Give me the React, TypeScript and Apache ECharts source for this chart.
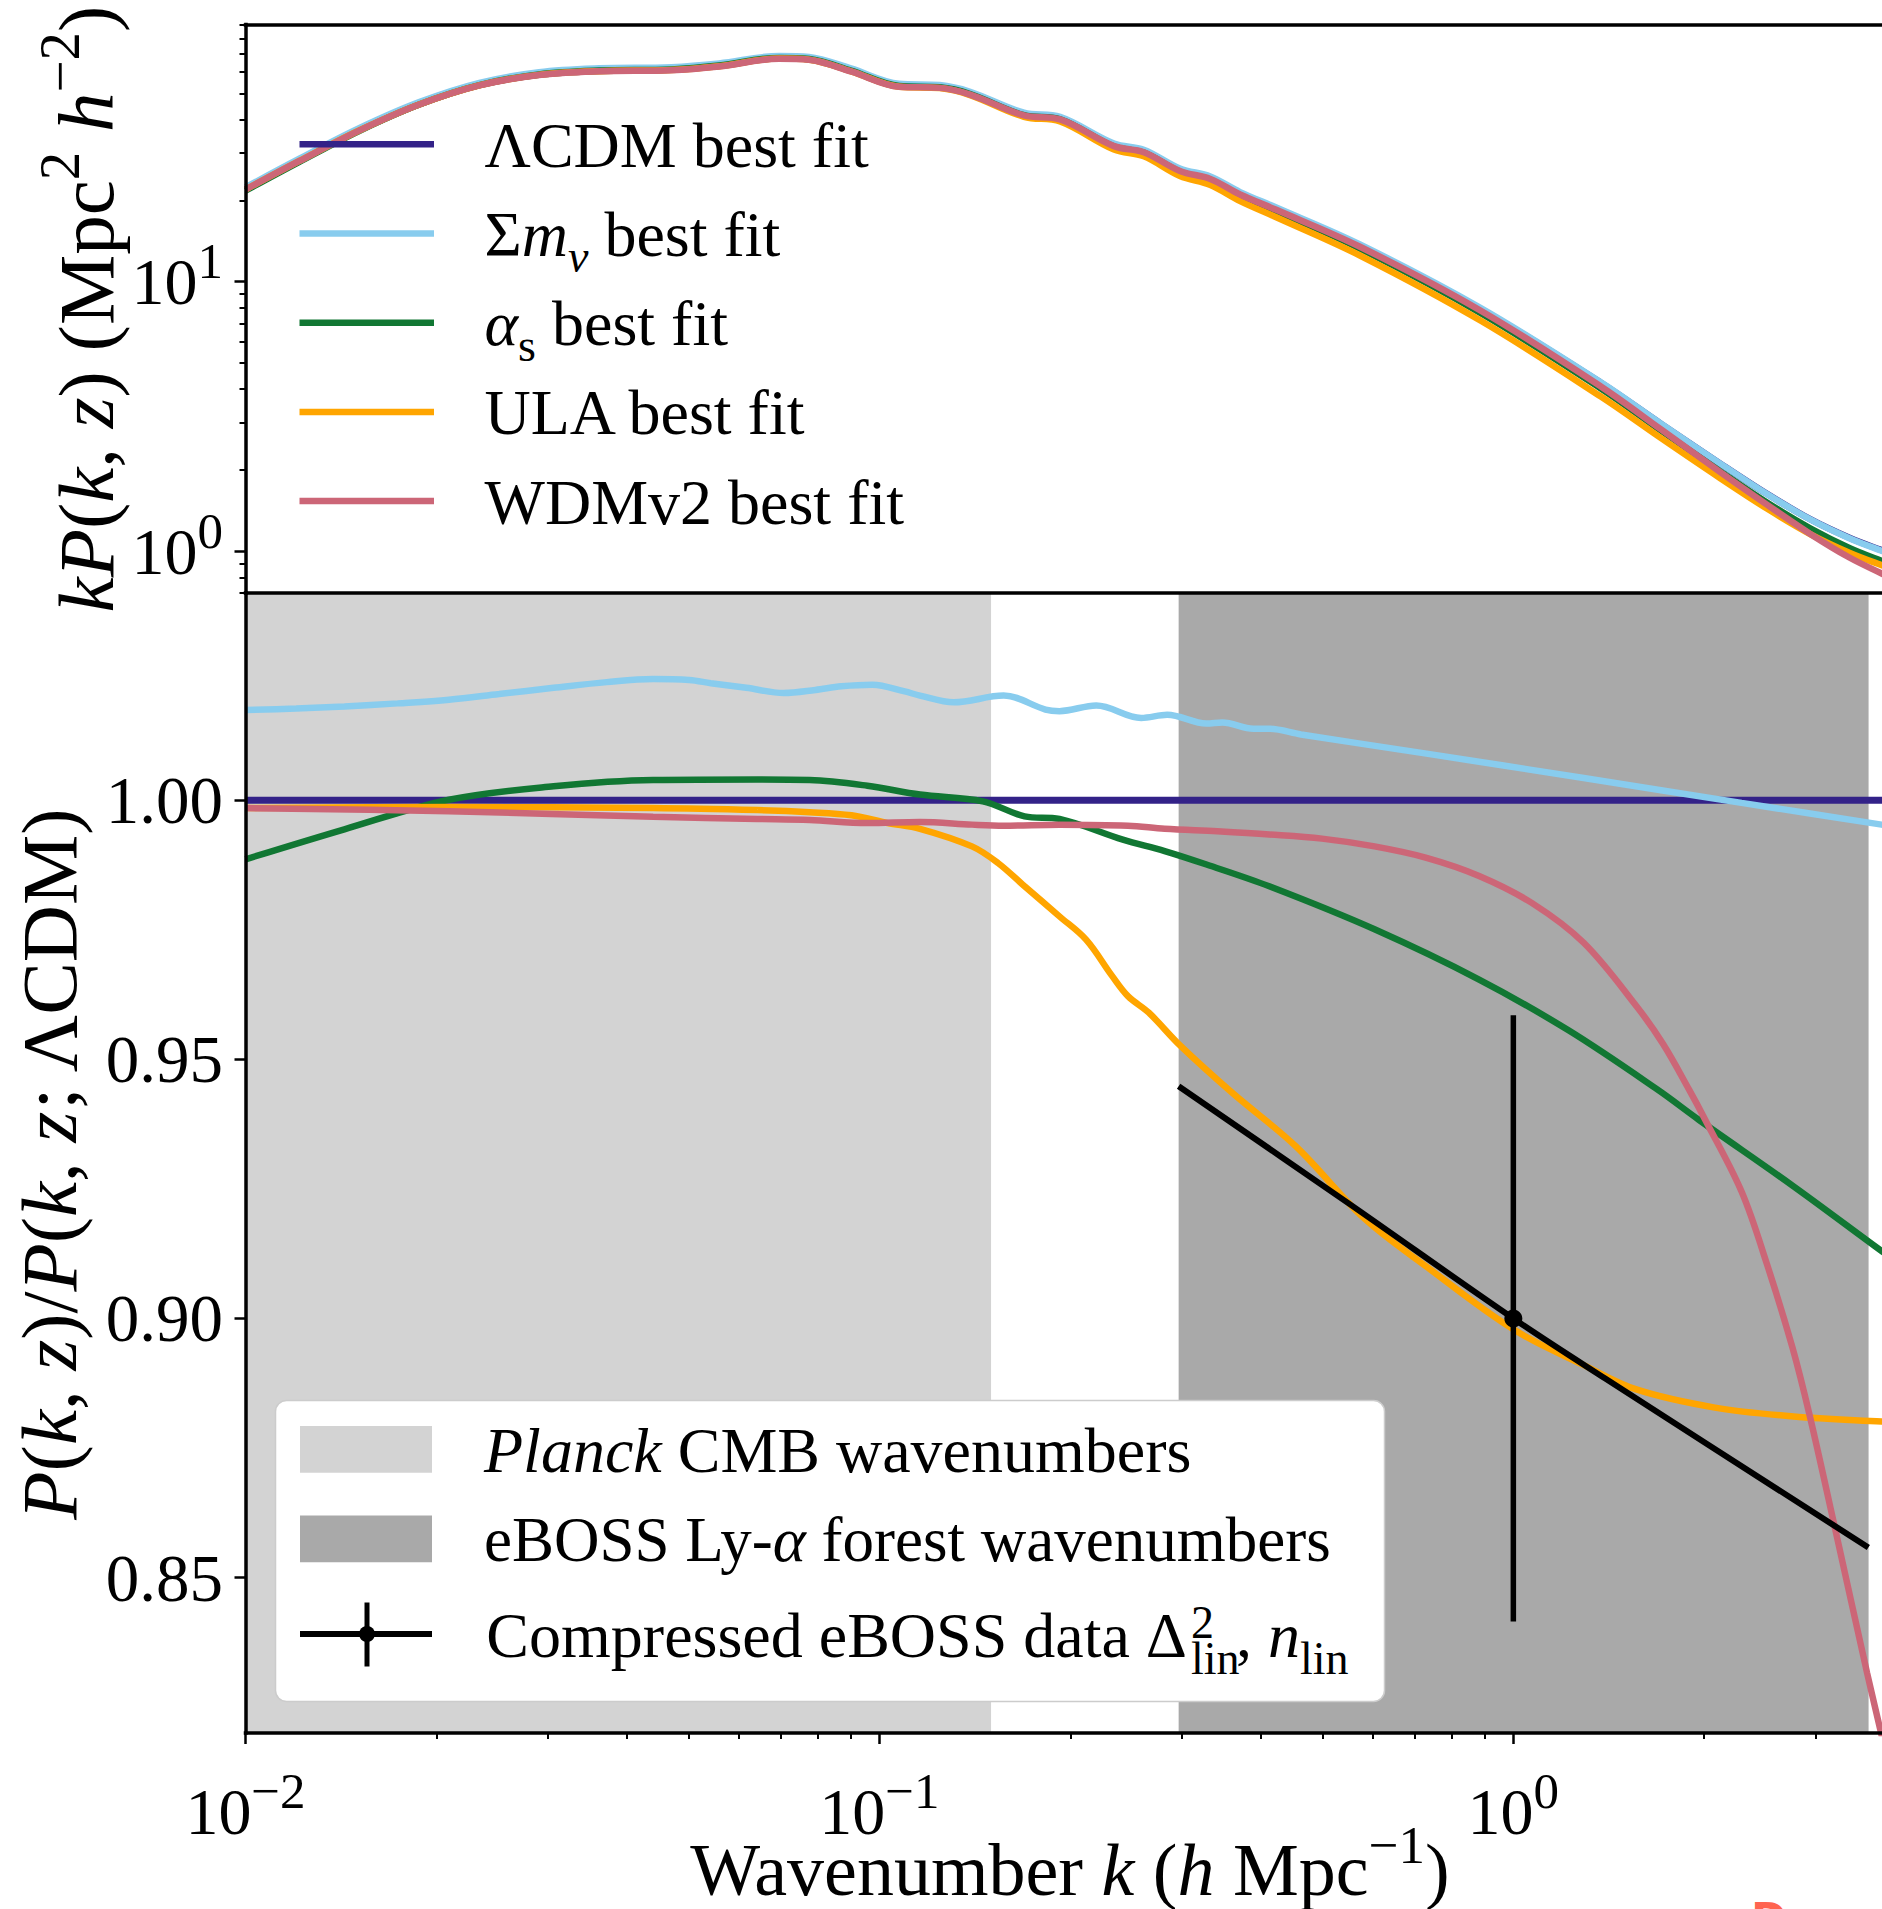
import React, { useEffect, useRef } from 'react';
import * as echarts from 'echarts';

const FONT = '"Liberation Serif", "DejaVu Serif", "Times New Roman", serif';

// ---------------- axis ranges (log10 k on x) ----------------
const LOG_K_MIN = -2; // k = 0.01 h/Mpc
const LOG_K_MAX = Math.log10(4); // k = 4 h/Mpc (figure cropped on the right)
const KP_MIN = 0.7;
const KP_MAX = 90;
const RATIO_MIN = 0.82;
const RATIO_MAX = 1.04;

// ---------------- ticks ----------------
const X_MAJOR_DECADES = [-2, -1, 0];
const MINOR_MULTIPLIERS = [2, 3, 4, 5, 6, 7, 8, 9];
const KP_MAJOR_DECADES = [0, 1];
const KP_MINOR_DECADES = [-1, 0, 1];
const RATIO_TICKS = [0.85, 0.9, 0.95, 1.0];

// ---------------- colours ----------------
const C_LCDM = '#332288';
const C_MNU = '#88CCEE';
const C_ALPHA = '#117733';
const C_ULA = '#FFA500';
const C_WDM = '#CC6677';

// ---------------- top panel: k P(k, z) ----------------
const TOP_LOG_K = [-2.0, -1.915, -1.82, -1.726, -1.631, -1.537, -1.442, -1.328, -1.253, -1.158, -1.111, -1.045, -0.969, -0.905, -0.857, -0.772, -0.715, -0.63, -0.583, -0.526, -0.478, -0.431, -0.374, -0.242, -0.052, 0.138, 0.233, 0.327, 0.4, 0.469, 0.53, 0.581, 0.602];
const TOP_LCDM = [22.0, 28.1, 36.5, 45.5, 53.6, 58.6, 60.5, 61.1, 63.1, 67.4, 66.8, 60.5, 53.1, 52.6, 49.7, 41.6, 40.2, 32.0, 30.4, 25.9, 24.2, 21.2, 18.6, 13.6, 7.94, 4.22, 2.97, 2.11, 1.633, 1.312, 1.122, 1.009, 0.97];
const TOP_MNU = [22.38, 28.6, 37.17, 46.36, 54.67, 59.85, 61.87, 62.52, 64.53, 68.8, 68.22, 61.83, 54.23, 53.63, 50.64, 42.35, 40.89, 32.58, 30.89, 26.32, 24.56, 21.5, 18.85, 13.75, 8.0, 4.236, 2.975, 2.11, 1.63, 1.309, 1.118, 1.004, 0.965];
const TOP_ALPHA_S = [21.75, 27.85, 36.32, 45.45, 53.65, 58.75, 60.7, 61.34, 63.35, 67.67, 67.06, 60.7, 53.21, 52.63, 49.7, 41.47, 40.06, 31.75, 30.13, 25.6, 23.89, 20.89, 18.28, 13.28, 7.66, 4.018, 2.803, 1.975, 1.517, 1.214, 1.029, 0.921, 0.884];
const TOP_ULA = [21.97, 28.06, 36.45, 45.44, 53.53, 58.52, 60.42, 61.01, 63.0, 67.27, 66.65, 60.32, 52.85, 52.27, 49.26, 40.91, 39.3, 30.91, 29.18, 24.67, 22.84, 19.9, 17.34, 12.51, 7.18, 3.749, 2.628, 1.862, 1.44, 1.156, 0.988, 0.888, 0.854];
const TOP_WDM = [21.97, 28.05, 36.43, 45.41, 53.48, 58.44, 60.32, 60.9, 62.89, 67.16, 66.55, 60.25, 52.87, 52.37, 49.47, 41.4, 40.01, 31.84, 30.24, 25.75, 24.06, 21.07, 18.48, 13.48, 7.82, 4.087, 2.832, 1.962, 1.489, 1.157, 0.948, 0.827, 0.784];

// ---------------- bottom panel: ratio to LCDM ----------------
const LCDM_LOG_K = [-2.0, 0.602];
const LCDM_RATIO = [1.0, 1.0];

const MNU_LOG_K = [-2.0, -1.92, -1.844, -1.76, -1.679, -1.6, -1.514, -1.43, -1.357, -1.3, -1.266, -1.21, -1.151, -1.101, -1.06, -1.011, -0.96, -0.936, -0.883, -0.804, -0.738, -0.716, -0.658, -0.587, -0.546, -0.484, -0.459, -0.41, -0.385, -0.335, -0.137, 0.111, 0.36, 0.581, 0.602];
const MNU_RATIO = [1.0174, 1.0177, 1.0181, 1.0187, 1.0194, 1.0205, 1.0217, 1.0228, 1.0234, 1.0232, 1.0226, 1.0217, 1.0207, 1.0213, 1.022, 1.0223, 1.021, 1.0202, 1.0189, 1.0202, 1.0175, 1.0172, 1.0183, 1.0159, 1.0165, 1.0148, 1.015, 1.0138, 1.0138, 1.0127, 1.009, 1.0043, 0.9995, 0.9953, 0.9949];

const ALPHA_LOG_K = [-2.0, -1.844, -1.679, -1.514, -1.357, -1.192, -1.11, -1.019, -0.936, -0.837, -0.771, -0.716, -0.616, -0.55, -0.484, -0.385, -0.219, -0.054, 0.087, 0.227, 0.293, 0.442, 0.581, 0.602];
const ALPHA_RATIO = [0.9886, 0.9944, 1.0001, 1.0027, 1.0039, 1.004, 1.0039, 1.0028, 1.0011, 0.9998, 0.9969, 0.9964, 0.9924, 0.9902, 0.9876, 0.9834, 0.9751, 0.9654, 0.9556, 0.9442, 0.9383, 0.9255, 0.913, 0.9112];

const ULA_LOG_K = [-2.0, -1.679, -1.357, -1.192, -1.11, -1.044, -0.987, -0.936, -0.854, -0.813, -0.771, -0.716, -0.674, -0.633, -0.608, -0.575, -0.525, -0.443, -0.343, -0.236, -0.137, 0.0, 0.111, 0.194, 0.318, 0.442, 0.581, 0.602];
const ULA_RATIO = [0.9985, 0.9987, 0.9985, 0.9981, 0.9977, 0.9971, 0.9956, 0.9945, 0.9911, 0.9879, 0.9834, 0.9776, 0.9731, 0.9661, 0.9622, 0.959, 0.9526, 0.9435, 0.9332, 0.9194, 0.91, 0.8979, 0.891, 0.8863, 0.8828, 0.8811, 0.8801, 0.88];

const WDM_LOG_K = [-2.0, -1.679, -1.357, -1.192, -1.11, -1.019, -0.936, -0.854, -0.804, -0.716, -0.608, -0.55, -0.467, -0.385, -0.302, -0.219, -0.137, -0.054, 0.029, 0.111, 0.194, 0.236, 0.277, 0.302, 0.36, 0.4, 0.44, 0.467, 0.508, 0.558, 0.581, 0.602];
const WDM_RATIO = [0.9985, 0.9979, 0.9968, 0.9964, 0.9962, 0.9956, 0.9958, 0.9953, 0.9951, 0.9953, 0.9951, 0.9945, 0.994, 0.9934, 0.9926, 0.9911, 0.9889, 0.9854, 0.9802, 0.9725, 0.9603, 0.953, 0.9442, 0.9385, 0.9245, 0.9105, 0.8945, 0.8815, 0.8592, 0.8316, 0.8195, 0.808];

// compressed eBOSS constraint (amplitude + slope)
const NLIN_LOG_K = [-0.528, -0.261, 0.0, 0.145, 0.56];
const NLIN_RATIO = [0.9448, 0.9223, 0.9, 0.8884, 0.8558];
const EBOSS_POINT = [[0.0, 0.9, 0.0585]]; // [log10 k, ratio, error]

// wavenumber ranges (h/Mpc)
const BAND_K_MIN = [0.01, 0.2965];
const BAND_K_MAX = [0.15, 3.634];
const BAND_COLORS = ['#d3d3d3', '#a9a9a9'];

// ---------------- helpers ----------------
function rich(size: number, lh: number, supScale = 0.72) {
  const sup = Math.round(size * supScale);
  const base = { fontFamily: FONT, color: '#000' };
  return {
    n: { ...base, fontSize: size, lineHeight: lh },
    i: { ...base, fontSize: size, lineHeight: lh, fontStyle: 'italic' },
    s: { ...base, fontSize: sup, lineHeight: lh - 0.66 * size, verticalAlign: 'top' },
    u: { ...base, fontSize: sup, lineHeight: lh - 0.62 * size, verticalAlign: 'bottom' },
    ui: { ...base, fontSize: sup, lineHeight: lh - 0.62 * size, verticalAlign: 'bottom', fontStyle: 'italic' },
  };
}

function minorTicks(decades: number[], lo: number, hi: number) {
  const out: number[] = [];
  decades.forEach((d) => MINOR_MULTIPLIERS.forEach((m) => {
    const v = d + Math.log10(m);
    if (v >= lo - 1e-9 && v <= hi + 1e-9) out.push(v);
  }));
  return out;
}

function powLabel(v: number) {
  const e = Math.round(v);
  return `{n|10}{s|${e < 0 ? '\u2212' + Math.abs(e) : e}}`;
}

const AXIS_LINE = { show: true, onZero: false, lineStyle: { color: '#000', width: 3.5, cap: 'square' } };

function lineSeries(name: string, logK: number[], vals: number[], color: string, idx: number, z: number, logY: boolean, width = 6.5) {
  return {
    name,
    type: 'line',
    xAxisIndex: idx === 0 ? 0 : 2,
    yAxisIndex: idx === 0 ? 0 : 2,
    data: logK.map((x, i) => [x, logY ? Math.log10(vals[i]) : vals[i]]),
    showSymbol: false,
    symbol: 'none',
    smooth: 0.35,
    lineStyle: { color, width },
    z,
    silent: true,
  };
}

function txt(x: number, y: number, text: string, size: number, align = 'left', extra: any = {}) {
  return {
    type: 'text',
    x,
    y,
    z: 100,
    silent: true,
    ...extra,
    style: {
      text,
      rich: rich(size, Math.round(size * 1.4)),
      fontFamily: FONT,
      fontSize: size,
      fill: '#000',
      align,
      textAlign: align,
      verticalAlign: 'middle',
      textVerticalAlign: 'middle',
    },
  };
}

function buildOption() {
  const xMinor = minorTicks(X_MAJOR_DECADES, LOG_K_MIN, LOG_K_MAX);
  const kpLo = Math.log10(KP_MIN);
  const kpHi = Math.log10(KP_MAX);
  const yMinor = minorTicks(KP_MINOR_DECADES, kpLo, kpHi);
  const tickRich = rich(66, 92, 0.78);

  const xBase = { type: 'value', min: LOG_K_MIN, max: LOG_K_MAX, splitLine: { show: false }, z: 10 };

  const topLegendItems = [
    { color: C_LCDM, label: '{n|\u039BCDM best fit}' },
    { color: C_MNU, label: '{n|\u03A3}{i|m}{ui|\u03BD}{n| best fit}' },
    { color: C_ALPHA, label: '{i|\u03B1}{u|s}{n| best fit}' },
    { color: C_ULA, label: '{n|ULA best fit}' },
    { color: C_WDM, label: '{n|WDMv2 best fit}' },
  ];

  const graphics: any[] = [];
  // top legend (no frame)
  topLegendItems.forEach((it, i) => {
    const y = 144.3 + i * 89.2;
    graphics.push({ type: 'line', z: 100, silent: true, shape: { x1: 299.5, y1: y, x2: 434, y2: y }, style: { stroke: it.color, lineWidth: 6.5 } });
    graphics.push(txt(484.5, y + 1, it.label, 64));
  });

  // bottom legend
  graphics.push({ type: 'rect', z: 99, silent: true, shape: { x: 275.5, y: 1400.5, width: 1109, height: 301, r: 11 }, style: { fill: '#ffffff', stroke: '#cccccc', lineWidth: 1.5 } });
  graphics.push({ type: 'rect', z: 100, silent: true, shape: { x: 300, y: 1426, width: 132, height: 46.7 }, style: { fill: BAND_COLORS[0] } });
  graphics.push({ type: 'rect', z: 100, silent: true, shape: { x: 300, y: 1515.5, width: 132, height: 46.7 }, style: { fill: BAND_COLORS[1] } });
  graphics.push({ type: 'line', z: 100, silent: true, shape: { x1: 300, y1: 1634, x2: 432, y2: 1634 }, style: { stroke: '#000', lineWidth: 6 } });
  graphics.push({ type: 'line', z: 100, silent: true, shape: { x1: 367, y1: 1602.5, x2: 367, y2: 1666.5 }, style: { stroke: '#000', lineWidth: 5 } });
  graphics.push({ type: 'circle', z: 101, silent: true, shape: { cx: 367, cy: 1634, r: 8 }, style: { fill: '#000' } });
  graphics.push(txt(484, 1450, '{i|Planck}{n| CMB wavenumbers}', 64));
  graphics.push(txt(484, 1540, '{n|eBOSS Ly-}{i|\u03B1}{n| forest wavenumbers}', 63));
  graphics.push(txt(1187, 1635, '{n|Compressed eBOSS data \u0394}', 64, 'right'));
  graphics.push(txt(1191, 1622, '{n|2}', 46));
  graphics.push(txt(1191, 1658, '{n|lin}', 46));
  graphics.push(txt(1236, 1635, '{n|, }{i|n}', 64));
  graphics.push(txt(1300, 1658, '{n|lin}', 46));

  // axis titles
  graphics.push(txt(1070, 1870, '{n|Wavenumber }{i|k}{n| (}{i|h}{n| Mpc}{s|\u22121}{n|)}', 74, 'center'));
  graphics.push(txt(86, 309, '{i|kP}{n|(}{i|k}{n|, }{i|z}{n|) (Mpc}{s|2}{n| }{i|h}{s|\u22122}{n|)}', 79, 'center', { rotation: Math.PI / 2 }));
  graphics.push(txt(49, 1163, '{i|P}{n|(}{i|k}{n|, }{i|z}{n|)/}{i|P}{n|(}{i|k}{n|, }{i|z}{n|; \u039BCDM)}', 79, 'center', { rotation: Math.PI / 2 }));

  // cropped watermark letter at the bottom edge
  graphics.push({ type: 'text', x: 1751, y: 1919, z: 100, silent: true, style: { text: 'D', fontFamily: '"DejaVu Sans", sans-serif', fontWeight: 'bold', fontSize: 44, fill: '#ff6450', verticalAlign: 'middle', textVerticalAlign: 'middle' } });

  return {
    animation: false,
    backgroundColor: '#ffffff',
    grid: [
      { left: 245.5, top: 24.5, width: 1649.5, height: 568.5, show: false, containLabel: false, outerBoundsMode: 'none' },
      { left: 245.5, top: 593, width: 1649.5, height: 1140, show: false, containLabel: false, outerBoundsMode: 'none' },
    ],
    xAxis: [
      { ...xBase, gridIndex: 0, position: 'bottom', axisLine: AXIS_LINE, axisTick: { show: false }, axisLabel: { show: false } },
      { ...xBase, gridIndex: 0, position: 'top', axisLine: AXIS_LINE, axisTick: { show: false }, axisLabel: { show: false } },
      {
        ...xBase, gridIndex: 1, position: 'bottom', axisLine: AXIS_LINE,
        axisTick: { show: true, inside: false, customValues: X_MAJOR_DECADES, length: 11, lineStyle: { color: '#000', width: 2.5 } },
        axisLabel: { show: true, customValues: X_MAJOR_DECADES, formatter: (v: number) => powLabel(v), margin: 32, rich: tickRich, fontFamily: FONT, fontSize: 66, color: '#000' },
      },
      {
        ...xBase, gridIndex: 1, position: 'bottom', axisLine: { show: false, onZero: false },
        axisTick: { show: true, inside: false, customValues: xMinor, length: 6, lineStyle: { color: '#000', width: 2 } },
        axisLabel: { show: false },
      },
    ],
    yAxis: [
      {
        type: 'value', gridIndex: 0, position: 'left', min: kpLo, max: kpHi, splitLine: { show: false }, z: 10, axisLine: AXIS_LINE,
        axisTick: { show: true, inside: false, customValues: KP_MAJOR_DECADES, length: 11, lineStyle: { color: '#000', width: 2.5 } },
        axisLabel: { show: true, customValues: KP_MAJOR_DECADES, formatter: (v: number) => powLabel(v), margin: 22.5, rich: tickRich, fontFamily: FONT, fontSize: 66, color: '#000' },
      },
      {
        type: 'value', gridIndex: 0, position: 'left', min: kpLo, max: kpHi, splitLine: { show: false }, z: 10, axisLine: { show: false, onZero: false },
        axisTick: { show: true, inside: false, customValues: yMinor, length: 6, lineStyle: { color: '#000', width: 2 } },
        axisLabel: { show: false },
      },
      {
        type: 'value', gridIndex: 1, position: 'left', min: RATIO_MIN, max: RATIO_MAX, splitLine: { show: false }, z: 10, axisLine: AXIS_LINE,
        axisTick: { show: true, inside: false, customValues: RATIO_TICKS, length: 11, lineStyle: { color: '#000', width: 2.5 } },
        axisLabel: { show: true, customValues: RATIO_TICKS, formatter: (v: number) => v.toFixed(2), margin: 22.5, fontFamily: FONT, fontSize: 67, color: '#000' },
      },
    ],
    series: [
      // top panel
      lineSeries('\u039BCDM best fit', TOP_LOG_K, TOP_LCDM, C_LCDM, 0, 2, true),
      lineSeries('\u03A3m\u03BD best fit', TOP_LOG_K, TOP_MNU, C_MNU, 0, 3, true),
      lineSeries('\u03B1s best fit', TOP_LOG_K, TOP_ALPHA_S, C_ALPHA, 0, 4, true),
      lineSeries('ULA best fit', TOP_LOG_K, TOP_ULA, C_ULA, 0, 5, true),
      lineSeries('WDMv2 best fit', TOP_LOG_K, TOP_WDM, C_WDM, 0, 6, true),
      // bottom panel bands
      {
        type: 'custom',
        xAxisIndex: 2,
        yAxisIndex: 2,
        z: 1,
        silent: true,
        clip: true,
        data: BAND_K_MIN.map((k, i) => [Math.log10(k), Math.log10(BAND_K_MAX[i])]),
        encode: { x: [0, 1] },
        renderItem: (params: any, api: any) => {
          const p0 = api.coord([api.value(0), RATIO_MAX]);
          const p1 = api.coord([api.value(1), RATIO_MIN]);
          return {
            type: 'rect',
            shape: { x: p0[0], y: p0[1], width: p1[0] - p0[0], height: p1[1] - p0[1] },
            style: { fill: BAND_COLORS[params.dataIndex] },
          };
        },
      },
      lineSeries('\u039BCDM ratio', LCDM_LOG_K, LCDM_RATIO, C_LCDM, 1, 2, false, 7),
      lineSeries('\u03A3m\u03BD ratio', MNU_LOG_K, MNU_RATIO, C_MNU, 1, 3, false),
      lineSeries('\u03B1s ratio', ALPHA_LOG_K, ALPHA_RATIO, C_ALPHA, 1, 4, false),
      lineSeries('ULA ratio', ULA_LOG_K, ULA_RATIO, C_ULA, 1, 5, false),
      lineSeries('WDMv2 ratio', WDM_LOG_K, WDM_RATIO, C_WDM, 1, 6, false),
      lineSeries('Compressed eBOSS slope', NLIN_LOG_K, NLIN_RATIO, '#000000', 1, 7, false, 6),
      {
        type: 'custom',
        xAxisIndex: 2,
        yAxisIndex: 2,
        z: 8,
        silent: true,
        data: EBOSS_POINT,
        encode: { x: 0, y: 1 },
        renderItem: (params: any, api: any) => {
          const x = api.value(0);
          const y = api.value(1);
          const e = api.value(2);
          const top = api.coord([x, y + e]);
          const bot = api.coord([x, y - e]);
          const c = api.coord([x, y]);
          return {
            type: 'group',
            children: [
              { type: 'line', shape: { x1: top[0], y1: top[1], x2: bot[0], y2: bot[1] }, style: { stroke: '#000', lineWidth: 5.5 } },
              { type: 'circle', shape: { cx: c[0], cy: c[1], r: 9 }, style: { fill: '#000' } },
            ],
          };
        },
      },
    ],
    graphic: { elements: graphics },
  };
}

export default function App() {
  const ref = useRef<HTMLDivElement | null>(null);
  useEffect(() => {
    if (!ref.current) return;
    const chart = echarts.init(ref.current, null, { renderer: 'svg' });
    chart.setOption(buildOption() as any);
    return () => chart.dispose();
  }, []);
  return (
    <div
      ref={ref}
      style={{ position: 'absolute', left: 0, top: 0, width: 1882, height: 1909, background: '#fff' }}
    />
  );
}
